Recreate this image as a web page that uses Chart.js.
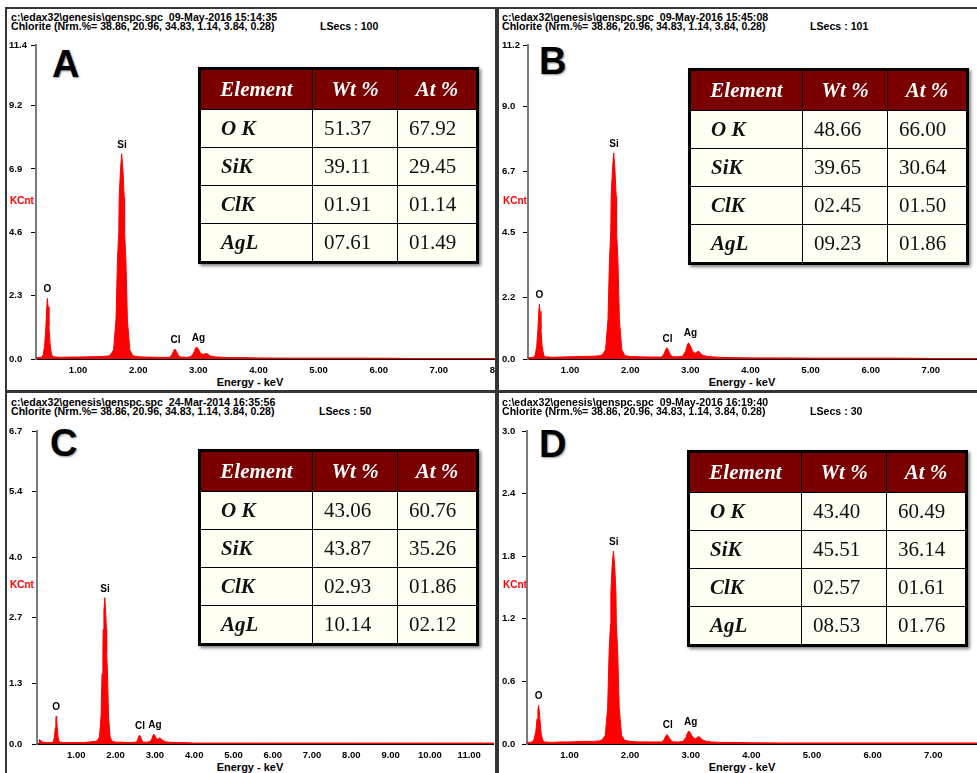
<!DOCTYPE html>
<html>
<head>
<meta charset="utf-8">
<script src="https://cdn.jsdelivr.net/npm/chart.js@4.4.1/dist/chart.umd.min.js"></script>
<style>
    body {
        margin: 0;
        width: 977px;
        height: 773px;
        background: #fff;
        position: relative;
        overflow: hidden;
        font-family: 'Liberation Sans', Arial, sans-serif;
    }
    .line { position: absolute; background: #353535; }
    .hdr { position: absolute; font-weight: bold; font-size: 10.6px; line-height: 10px; white-space: pre; color: #000; }
    .letter { position: absolute; font-weight: bold; font-size: 38px; line-height: 38px; color: #000; text-shadow: 1px 1px 2px rgba(0, 0, 0, 0.45); }
    .kcnt { position: absolute; color: #f00; font-weight: bold; font-size: 10px; line-height: 10px; }
    .xt { position: absolute; font-weight: bold; font-size: 11px; line-height: 11px; width: 120px; text-align: center; }
    .wrap { position: absolute; overflow: hidden; }
    table.el {
        position: absolute;
        border-collapse: collapse;
        table-layout: fixed;
        width: 278px;
        border: 3px solid #000;
        box-shadow: 2px 2px 3px rgba(0, 0, 0, 0.5);
        font-family: 'Liberation Serif', 'Times New Roman', serif;
        font-size: 21px;
    }
    table.el th {
        height: 39px;
        padding: 0;
        background: #7a0000;
        color: #fff;
        font-style: italic;
        font-weight: bold;
        border: 1.5px solid #000;
        text-align: center;
    }
    table.el td {
        height: 37px;
        padding: 0 0 0 11px;
        background: #fffff2;
        color: #111;
        border: 1.5px solid #000;
        text-align: left;
    }
    table.el td.n { font-weight: bold; font-style: italic; padding-left: 20px; }
</style>
</head>
<body>
<script>
// ---- data ----
const energy = [0.05, 0.15, 0.25, 0.33, 0.39, 0.42, 0.445, 0.465, 0.48, 0.49,
    0.50, 0.515, 0.535, 0.56, 0.59, 0.70, 0.85, 1.00, 1.20, 1.40,
    1.50, 1.54, 1.59, 1.63, 1.655, 1.677, 1.683, 1.703, 1.725, 1.747,
    1.767, 1.773, 1.795, 1.82, 1.86, 1.91, 2.00, 2.15, 2.35, 2.52,
    2.56, 2.59, 2.61, 2.635, 2.67, 2.71, 2.80, 2.87, 2.92, 2.95,
    2.97, 3.00, 3.04, 3.08, 3.12, 3.15, 3.19, 3.26, 3.34, 3.50,
    3.70, 4.00, 4.50, 5.00, 5.50, 6.00, 6.50, 7.00, 7.50, 8.00,
    9.00, 10.00, 11.00, 11.65]

const countsA = [0.02, 0.03, 0.04, 0.05, 0.06, 0.15, 0.5, 1.2, 1.9, 2.2,
    1.9, 1.2, 0.5, 0.15, 0.08, 0.06, 0.07, 0.07, 0.08, 0.09,
    0.11, 0.15, 0.33, 1.42, 3.6, 4.6, 5.85, 6.8, 7.45, 6.8,
    5.85, 4.6, 3.6, 1.42, 0.33, 0.12, 0.08, 0.07, 0.06, 0.06,
    0.15, 0.3, 0.36, 0.28, 0.12, 0.07, 0.06, 0.08, 0.2, 0.38,
    0.44, 0.36, 0.2, 0.16, 0.2, 0.19, 0.12, 0.08, 0.07, 0.05,
    0.05, 0.04, 0.03, 0.03, 0.03, 0.03, 0.02, 0.02, 0.02, 0.02,
    0.02, 0.02, 0.02, 0.02]

const countsB = [0.02, 0.03, 0.04, 0.05, 0.06, 0.14, 0.45, 1.05, 1.7, 1.95,
    1.7, 1.05, 0.45, 0.14, 0.08, 0.06, 0.07, 0.08, 0.09, 0.10,
    0.12, 0.16, 0.33, 1.4, 3.55, 4.55, 5.8, 6.7, 7.35, 6.7,
    5.8, 4.55, 3.55, 1.4, 0.33, 0.12, 0.09, 0.08, 0.07, 0.07,
    0.17, 0.33, 0.4, 0.31, 0.13, 0.08, 0.08, 0.1, 0.27, 0.5,
    0.58, 0.47, 0.26, 0.2, 0.27, 0.26, 0.15, 0.1, 0.08, 0.06,
    0.05, 0.04, 0.04, 0.03, 0.03, 0.03, 0.03, 0.02, 0.02, 0.02,
    0.02, 0.02, 0.02, 0.02]

const countsC = [0.1, 0.04, 0.03, 0.03, 0.03, 0.06, 0.15, 0.35, 0.53, 0.6,
    0.53, 0.35, 0.15, 0.06, 0.04, 0.03, 0.03, 0.03, 0.03, 0.05,
    0.06, 0.08, 0.15, 0.6, 1.5, 1.95, 2.45, 2.85, 3.13, 2.85,
    2.45, 1.95, 1.5, 0.6, 0.15, 0.06, 0.04, 0.04, 0.03, 0.04,
    0.08, 0.16, 0.19, 0.15, 0.07, 0.04, 0.04, 0.05, 0.1, 0.18,
    0.21, 0.18, 0.11, 0.1, 0.13, 0.12, 0.08, 0.05, 0.04, 0.03,
    0.03, 0.02, 0.02, 0.02, 0.02, 0.02, 0.02, 0.02, 0.02, 0.02,
    0.02, 0.02, 0.02, 0.02]

const countsD = [0.01, 0.01, 0.01, 0.015, 0.02, 0.05, 0.12, 0.24, 0.33, 0.37,
    0.33, 0.22, 0.09, 0.035, 0.02, 0.015, 0.02, 0.02, 0.025, 0.025,
    0.03, 0.04, 0.08, 0.35, 0.9, 1.15, 1.45, 1.7, 1.85, 1.7,
    1.45, 1.15, 0.9, 0.35, 0.08, 0.035, 0.025, 0.02, 0.02, 0.02,
    0.04, 0.08, 0.09, 0.07, 0.035, 0.02, 0.02, 0.025, 0.06, 0.11,
    0.125, 0.1, 0.06, 0.05, 0.07, 0.065, 0.04, 0.025, 0.02, 0.015,
    0.015, 0.012, 0.01, 0.01, 0.01, 0.01, 0.01, 0.01, 0.01, 0.01,
    0.01, 0.01, 0.01, 0.01]

const peakNames = ['O', 'Si', 'Cl', 'Ag']
const peakEnergy = [0.49, 1.73, 2.62, 3.0]
const peakA = [2.2, 7.45, 0.36, 0.44]
const peakB = [1.95, 7.35, 0.4, 0.58]
const peakC = [0.6, 3.13, 0.19, 0.21]
const peakD = [0.37, 1.85, 0.09, 0.125]

const yTicksA = [0, 2.3, 4.6, 6.9, 9.2, 11.4]
const yTicksB = [0, 2.2, 4.5, 6.7, 9.0, 11.2]
const yTicksC = [0, 1.3, 2.7, 4.0, 5.4, 6.7]
const yTicksD = [0, 0.6, 1.2, 1.8, 2.4, 3.0]
const xTicks8 = [1, 2, 3, 4, 5, 6, 7, 8]
const xTicks11 = [1, 2, 3, 4, 5, 6, 7, 8, 9, 10, 11]

const fileLine = 'c:\\edax32\\genesis\\genspc.spc  '
const nrmLine = 'Chlorite (Nrm.%= 38.86, 20.96, 34.83, 1.14, 3.84, 0.28)'
const datesAll = ['09-May-2016 15:14:35', '09-May-2016 15:45:08', '24-Mar-2014 16:35:56', '09-May-2016 16:19:40']
const lsecsAll = ['100', '101', '50', '30']

const tableHead = ['Element', 'Wt %', 'At %']
const tableA = [['O K', '51.37', '67.92'], ['SiK', '39.11', '29.45'], ['ClK', '01.91', '01.14'], ['AgL', '07.61', '01.49']]
const tableB = [['O K', '48.66', '66.00'], ['SiK', '39.65', '30.64'], ['ClK', '02.45', '01.50'], ['AgL', '09.23', '01.86']]
const tableC = [['O K', '43.06', '60.76'], ['SiK', '43.87', '35.26'], ['ClK', '02.93', '01.86'], ['AgL', '10.14', '02.12']]
const tableD = [['O K', '43.40', '60.49'], ['SiK', '45.51', '36.14'], ['ClK', '02.57', '01.61'], ['AgL', '08.53', '01.76']]

// ---- layout ----
Chart.defaults.font.family = "'Liberation Sans', Arial, sans-serif"

const panels = [
    {letter: 'A', counts: countsA, peaks: peakA, yTicks: yTicksA, xTicks: xTicks8, table: tableA,
        hx: 11, hy: 11.5, lsx: 320, wrapL: 7, wrapW: 488, wrapT: 35, top: 45, bottom: 359,
        axisX: 36, labelX: 9, xMin: 0.3, xMax: 8.1, slope: 60.1, titleX: 250, titleY: 377, kcntY: 195.5,
        letterL: 52, letterT: 45, tableL: 198, tableT: 67},
    {letter: 'B', counts: countsB, peaks: peakB, yTicks: yTicksB, xTicks: xTicks8, table: tableB,
        hx: 502, hy: 11.5, lsx: 810, wrapL: 498, wrapW: 479, wrapT: 35, top: 45, bottom: 359,
        axisX: 528, labelX: 502, xMin: 0.3, xMax: 8.1, slope: 60.1, titleX: 742, titleY: 377, kcntY: 195.5,
        letterL: 539, letterT: 42, tableL: 688, tableT: 68},
    {letter: 'C', counts: countsC, peaks: peakC, yTicks: yTicksC, xTicks: xTicks11, table: tableC,
        hx: 11, hy: 396.5, lsx: 319, wrapL: 7, wrapW: 488, wrapT: 420, top: 431, bottom: 744,
        axisX: 37, labelX: 9, xMin: 0, xMax: 11.63, slope: 39.3, titleX: 250, titleY: 761.5, kcntY: 580,
        letterL: 50, letterT: 424, tableL: 198, tableT: 449},
    {letter: 'D', counts: countsD, peaks: peakD, yTicks: yTicksD, xTicks: xTicks8, table: tableD,
        hx: 502, hy: 396.5, lsx: 810, wrapL: 498, wrapW: 479, wrapT: 420, top: 431, bottom: 744,
        axisX: 527, labelX: 502, xMin: 0.3, xMax: 8.1, slope: 60.6, titleX: 742, titleY: 761.5, kcntY: 580,
        letterL: 539, letterT: 425, tableL: 687, tableT: 450}
]

const peakLabels = {
    id: 'peakLabels',
    afterDatasetsDraw(chart, args, opts) {
        const ctx = chart.ctx
        const x = chart.scales.x
        const y = chart.scales.y
        ctx.save()
        ctx.font = "bold 10px 'Liberation Sans', Arial, sans-serif"
        ctx.fillStyle = '#000'
        ctx.textAlign = 'center'
        ctx.textBaseline = 'bottom'
        peakNames.forEach((n, i) => {
            ctx.fillText(n, x.getPixelForValue(peakEnergy[i]), y.getPixelForValue(opts.heights[i]) - 4)
        })
        ctx.restore()
    }
}

function addDiv(cls, text, left, top, extra) {
    let d = document.createElement('div')
    d.className = cls
    d.textContent = text
    d.style.left = left + 'px'
    d.style.top = top + 'px'
    if (extra) Object.assign(d.style, extra)
    document.body.appendChild(d)
    return d
}

function makeTable(rows, left, top) {
    let t = document.createElement('table')
    t.className = 'el'
    t.style.left = left + 'px'
    t.style.top = top + 'px'
    let html = '<colgroup><col style="width:113px"><col style="width:85px"><col style="width:80px"></colgroup>'
    html += '<tr>' + tableHead.map(h => '<th>' + h + '</th>').join('') + '</tr>'
    rows.forEach(r => {
        html += '<tr><td class="n">' + r[0] + '</td><td>' + r[1] + '</td><td>' + r[2] + '</td></tr>'
    })
    t.innerHTML = html
    document.body.appendChild(t)
}

function makePanel(p, idx) {
    addDiv('hdr', fileLine + datesAll[idx], p.hx, p.hy)
    addDiv('hdr', nrmLine, p.hx, p.hy + 9.5)
    addDiv('hdr', 'LSecs : ' + lsecsAll[idx], p.lsx, p.hy + 9.5)
    addDiv('letter', p.letter, p.letterL, p.letterT)
    addDiv('kcnt', 'KCnt', p.labelX + 1, p.kcntY)
    addDiv('xt', 'Energy - keV', p.titleX - 60, p.titleY)

    const wrapH = 355
    let wrap = document.createElement('div')
    wrap.className = 'wrap'
    Object.assign(wrap.style, {left: p.wrapL + 'px', top: p.wrapT + 'px', width: p.wrapW + 'px', height: wrapH + 'px'})
    document.body.appendChild(wrap)

    const W = Math.round(p.axisX + (p.xMax - p.xMin) * p.slope - p.wrapL)
    let cv = document.createElement('canvas')
    cv.width = W
    cv.height = wrapH
    cv.style.width = W + 'px'
    cv.style.height = wrapH + 'px'
    wrap.appendChild(cv)

    new Chart(cv, {
        type: 'line',
        data: {
            datasets: [{
                data: energy.map((e, i) => ({x: e, y: p.counts[i]})),
                borderColor: '#ff0000',
                backgroundColor: '#ff0000',
                borderWidth: 1,
                fill: 'origin',
                pointRadius: 0,
                tension: 0
            }]
        },
        plugins: [peakLabels],
        options: {
            responsive: false,
            animation: false,
            devicePixelRatio: 1,
            layout: {padding: {left: p.labelX - p.wrapL, top: p.top - p.wrapT, right: 0, bottom: 0}},
            plugins: {
                legend: {display: false},
                tooltip: {enabled: false},
                peakLabels: {heights: p.peaks}
            },
            scales: {
                x: {
                    type: 'linear',
                    min: p.xMin,
                    max: p.xMax,
                    afterBuildTicks: s => { s.ticks = p.xTicks.map(v => ({value: v})) },
                    afterFit: s => {
                        s.height = wrapH - (p.bottom - p.wrapT)
                        s.paddingLeft = 0
                        s.paddingRight = 0
                    },
                    grid: {display: false},
                    border: {display: true, color: '#000', width: 2},
                    ticks: {
                        color: '#000',
                        font: {size: 9.5, weight: 'bold'},
                        padding: -2,
                        maxRotation: 0,
                        autoSkip: false,
                        callback: v => v.toFixed(2)
                    }
                },
                y: {
                    min: 0,
                    max: p.yTicks[p.yTicks.length - 1],
                    afterBuildTicks: s => { s.ticks = p.yTicks.map(v => ({value: v})) },
                    afterFit: s => {
                        s.width = p.axisX - p.labelX
                        s.paddingTop = 0
                        s.paddingBottom = 0
                    },
                    grid: {display: true, drawOnChartArea: false, drawTicks: true, tickLength: 5, color: '#000', lineWidth: 1},
                    border: {display: true, color: '#7a7a7a', width: 2},
                    ticks: {
                        color: '#000',
                        font: {size: 9.5, weight: 'bold'},
                        crossAlign: 'far',
                        padding: 2,
                        autoSkip: false,
                        callback: v => v.toFixed(1)
                    }
                }
            }
        }
    })

    makeTable(p.table, p.tableL, p.tableT)
}

panels.forEach(makePanel)

// frame lines between the four spectra
addDiv('line', '', 5, 7, {width: '972px', height: '2px'})
addDiv('line', '', 5, 7, {width: '2px', height: '766px'})
addDiv('line', '', 495, 7, {width: '4px', height: '766px'})
addDiv('line', '', 5, 390, {width: '972px', height: '3px'})
</script>
</body>
</html>
